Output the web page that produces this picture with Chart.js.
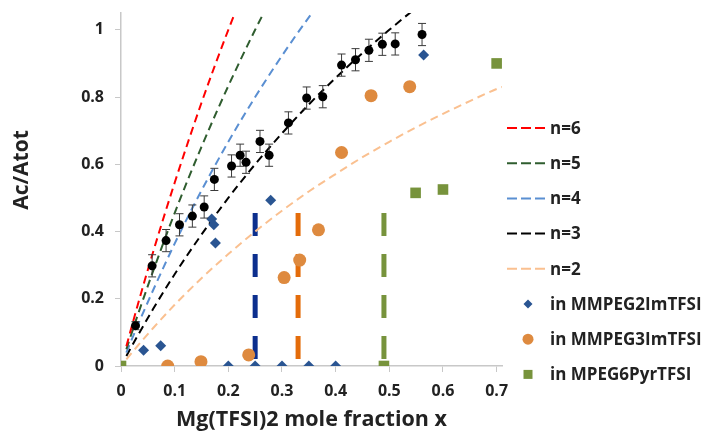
<!DOCTYPE html>
<html>
<head>
<meta charset="utf-8">
<script src="https://cdn.jsdelivr.net/npm/chart.js@4.4.1/dist/chart.umd.min.js"></script>
<style>
  html, body { margin: 0; padding: 0; background: #ffffff; }
  #wrap { width: 707px; height: 433px; }
</style>
</head>
<body>
<div id="wrap"><canvas id="c" width="707" height="433"></canvas></div>
<script>
// Measured Ac/Atot with error bars
const expX = [0.027, 0.058, 0.084, 0.109, 0.133, 0.155, 0.174, 0.206, 0.222, 0.233, 0.259, 0.276, 0.312, 0.346, 0.376, 0.411, 0.437, 0.462, 0.487, 0.511, 0.561];
const expY = [0.120, 0.298, 0.373, 0.420, 0.446, 0.473, 0.555, 0.595, 0.627, 0.606, 0.668, 0.627, 0.723, 0.797, 0.801, 0.895, 0.911, 0.939, 0.957, 0.958, 0.986];
const expErr = [0.012, 0.033, 0.033, 0.033, 0.033, 0.033, 0.033, 0.033, 0.033, 0.033, 0.033, 0.033, 0.033, 0.033, 0.033, 0.033, 0.033, 0.033, 0.033, 0.033, 0.033];

// Electrolyte series
const peg2X = [0.042, 0.074, 0.169, 0.173, 0.176, 0.200, 0.250, 0.279, 0.300, 0.350, 0.400, 0.564];
const peg2Y = [0.047, 0.060, 0.437, 0.420, 0.366, 0.000, 0.000, 0.493, 0.000, 0.000, 0.000, 0.925];
const peg3X = [0.087, 0.149, 0.238, 0.304, 0.333, 0.368, 0.411, 0.466, 0.538];
const peg3Y = [0.000, 0.013, 0.033, 0.263, 0.315, 0.405, 0.635, 0.804, 0.831];
const peg6X = [0.000, 0.490, 0.549, 0.600, 0.700];
const peg6Y = [0.000, 0.000, 0.515, 0.525, 0.900];

// Model curves for n = 6 ... 2
const n6X = [0.01, 0.03, 0.06, 0.10, 0.15, 0.20, 0.25];
const n6Y = [0.059, 0.175, 0.340, 0.545, 0.783, 1.000, 1.200];
const n5X = [0.01, 0.03, 0.06, 0.10, 0.15, 0.20, 0.25, 0.30];
const n5Y = [0.050, 0.146, 0.283, 0.455, 0.652, 0.833, 1.000, 1.154];
const n4X = [0.01, 0.03, 0.06, 0.10, 0.15, 0.20, 0.25, 0.30, 0.35, 0.40];
const n4Y = [0.040, 0.117, 0.226, 0.364, 0.522, 0.667, 0.800, 0.923, 1.037, 1.143];
const n3X = [0.01, 0.03, 0.06, 0.10, 0.15, 0.20, 0.25, 0.30, 0.35, 0.40, 0.45, 0.50, 0.55, 0.60];
const n3Y = [0.030, 0.087, 0.170, 0.273, 0.391, 0.500, 0.600, 0.692, 0.778, 0.857, 0.931, 1.000, 1.065, 1.125];
const n2X = [0.01, 0.03, 0.06, 0.10, 0.15, 0.20, 0.25, 0.30, 0.35, 0.40, 0.45, 0.50, 0.55, 0.60, 0.65, 0.70, 0.71];
const n2Y = [0.020, 0.058, 0.113, 0.182, 0.261, 0.333, 0.400, 0.462, 0.519, 0.571, 0.621, 0.667, 0.710, 0.750, 0.788, 0.824, 0.830];

// Vertical markers (x position, top value)
const markX = [0.25, 0.33, 0.49];
const markTop = [0.455, 0.455, 0.455];

// Axis tick labels
const xTickLabels = ['0', '0.1', '0.2', '0.3', '0.4', '0.5', '0.6', '0.7'];
const yTickLabels = ['0', '0.2', '0.4', '0.6', '0.8', '1'];

const pts = (xs, ys) => xs.map((x, i) => ({ x: x, y: ys[i] }));
const FONT = '"Open Sans", Lato, "DejaVu Sans", sans-serif';
const TEXT = '#222222';

function curve(label, xs, ys, color, order) {
  return {
    label: label, data: pts(xs, ys), showLine: true, borderColor: color, backgroundColor: color,
    borderWidth: 2, borderDash: [8, 5], pointRadius: 0, pointHoverRadius: 0,
    cubicInterpolationMode: 'monotone', order: order, isCurve: true
  };
}
function vmark(x, top, color, order) {
  return {
    label: '', data: [{ x: x, y: top }, { x: x, y: 0 }], showLine: true, borderColor: color,
    borderWidth: 5, borderDash: [23, 18], borderCapStyle: 'butt', pointRadius: 0, pointHoverRadius: 0,
    order: order
  };
}

const datasets = [
  { label: 'exp', data: pts(expX, expY), pointStyle: 'circle', pointRadius: 4.5, backgroundColor: '#000000',
    borderColor: '#000000', borderWidth: 0, order: 0, errors: expErr },
  { label: 'in MMPEG2ImTFSI', data: pts(peg2X, peg2Y), pointStyle: 'rectRot', pointRadius: 5.5,
    backgroundColor: '#2A5592', borderColor: '#2A5592', borderWidth: 0, order: 1 },
  { label: 'in MMPEG3ImTFSI', data: pts(peg3X, peg3Y), pointStyle: 'circle', pointRadius: 6.5,
    backgroundColor: '#DE8A3F', borderColor: '#DE8A3F', borderWidth: 0, order: 2 },
  { label: 'in MPEG6PyrTFSI', data: pts(peg6X, peg6Y), pointStyle: 'rect', pointRadius: 7.5,
    backgroundColor: '#77933C', borderColor: '#77933C', borderWidth: 0, order: 3 },
  curve('n=6', n6X, n6Y, '#FF0000', 5),
  curve('n=5', n5X, n5Y, '#2F5D2F', 6),
  curve('n=4', n4X, n4Y, '#5A8FD2', 7),
  curve('n=3', n3X, n3Y, '#000000', 8),
  curve('n=2', n2X, n2Y, '#FAC090', 9),
  vmark(markX[0], markTop[0], '#0C2F8E', 10),
  vmark(markX[1], markTop[1], '#E46C0A', 11),
  vmark(markX[2], markTop[2], '#77933C', 12)
];

// Error bars drawn under the measured points
const errorBars = {
  id: 'errorBars',
  beforeDatasetDraw(chart, args) {
    const ds = chart.data.datasets[args.index];
    if (!ds.errors) return;
    const { ctx } = chart;
    const xs = chart.scales.x, ys = chart.scales.y;
    ctx.save();
    ctx.strokeStyle = '#3a3a3a';
    ctx.lineWidth = 1;
    ds.data.forEach((p, i) => {
      const e = ds.errors[i];
      const px = xs.getPixelForValue(p.x);
      const y1 = ys.getPixelForValue(p.y + e), y2 = ys.getPixelForValue(p.y - e);
      ctx.beginPath();
      ctx.moveTo(px, y1); ctx.lineTo(px, y2);
      ctx.moveTo(px - 4, y1); ctx.lineTo(px + 4, y1);
      ctx.moveTo(px - 4, y2); ctx.lineTo(px + 4, y2);
      ctx.stroke();
    });
    ctx.restore();
  }
};

// Legend on the right and the vertical axis title
const sideLegend = {
  id: 'sideLegend',
  afterDraw(chart) {
    const { ctx } = chart;
    const order = ['n=6', 'n=5', 'n=4', 'n=3', 'n=2', 'in MMPEG2ImTFSI', 'in MMPEG3ImTFSI', 'in MPEG6PyrTFSI'];
    const top = 128, step = 35.2, textX = 550;
    ctx.save();
    ctx.font = 'bold 17px ' + FONT;
    ctx.textBaseline = 'middle';
    ctx.textAlign = 'left';
    order.forEach((lab, i) => {
      const ds = chart.data.datasets.find(d => d.label === lab);
      const y = top + i * step;
      if (ds.isCurve) {
        ctx.strokeStyle = ds.borderColor;
        ctx.lineWidth = 2;
        ctx.setLineDash([10, 4]);
        ctx.beginPath(); ctx.moveTo(507, y); ctx.lineTo(545, y); ctx.stroke();
        ctx.setLineDash([]);
      } else {
        ctx.fillStyle = ds.backgroundColor;
        const cx = 528;
        ctx.beginPath();
        if (ds.pointStyle === 'rectRot') {
          ctx.moveTo(cx, y - 4.5); ctx.lineTo(cx + 4.5, y); ctx.lineTo(cx, y + 4.5); ctx.lineTo(cx - 4.5, y);
          ctx.closePath();
        } else if (ds.pointStyle === 'circle') {
          ctx.arc(cx, y, 5.5, 0, Math.PI * 2);
        } else {
          ctx.rect(cx - 4.5, y - 4.5, 9, 9);
        }
        ctx.fill();
      }
      ctx.fillStyle = TEXT;
      ctx.fillText(lab, textX, y + 1);
    });
    // vertical axis title
    ctx.font = 'bold 21px ' + FONT;
    ctx.textAlign = 'center';
    ctx.translate(22, 170);
    ctx.rotate(-Math.PI / 2);
    ctx.fillText('Ac/Atot', 0, 0);
    ctx.restore();
  }
};

const axisGrid = { drawOnChartArea: false, drawTicks: true, tickLength: 6, color: '#C8C8C8' };

new Chart(document.getElementById('c'), {
  type: 'scatter',
  data: { datasets: datasets },
  options: {
    responsive: false,
    animation: false,
    events: [],
    layout: { padding: { left: 0, right: 205, top: 13, bottom: 0 } },
    plugins: { legend: { display: false }, tooltip: { enabled: false } },
    scales: {
      x: {
        type: 'linear', min: 0, max: 0.71,
        grid: axisGrid,
        border: { color: '#C8C8C8', width: 1.5 },
        ticks: {
          stepSize: 0.1, includeBounds: false, padding: 10,
          color: TEXT, font: { family: FONT, size: 16, weight: 'bold' },
          callback: (v, i) => xTickLabels[i]
        },
        title: { display: true, text: 'Mg(TFSI)2 mole fraction x', color: TEXT,
          font: { family: FONT, size: 21.5, weight: 'bold' }, padding: { top: 0, bottom: 0 } },
        afterFit: s => { s.height = 67; }
      },
      y: {
        type: 'linear', min: 0, max: 1.05,
        grid: axisGrid,
        border: { color: '#C8C8C8', width: 1.5 },
        ticks: {
          stepSize: 0.2, includeBounds: false, padding: 11,
          color: TEXT, font: { family: FONT, size: 16, weight: 'bold' },
          callback: (v, i) => yTickLabels[i]
        },
        afterFit: s => { s.width = 121; s.paddingTop = 8; s.paddingBottom = 8; }
      }
    }
  },
  plugins: [errorBars, sideLegend]
});
</script>
</body>
</html>
